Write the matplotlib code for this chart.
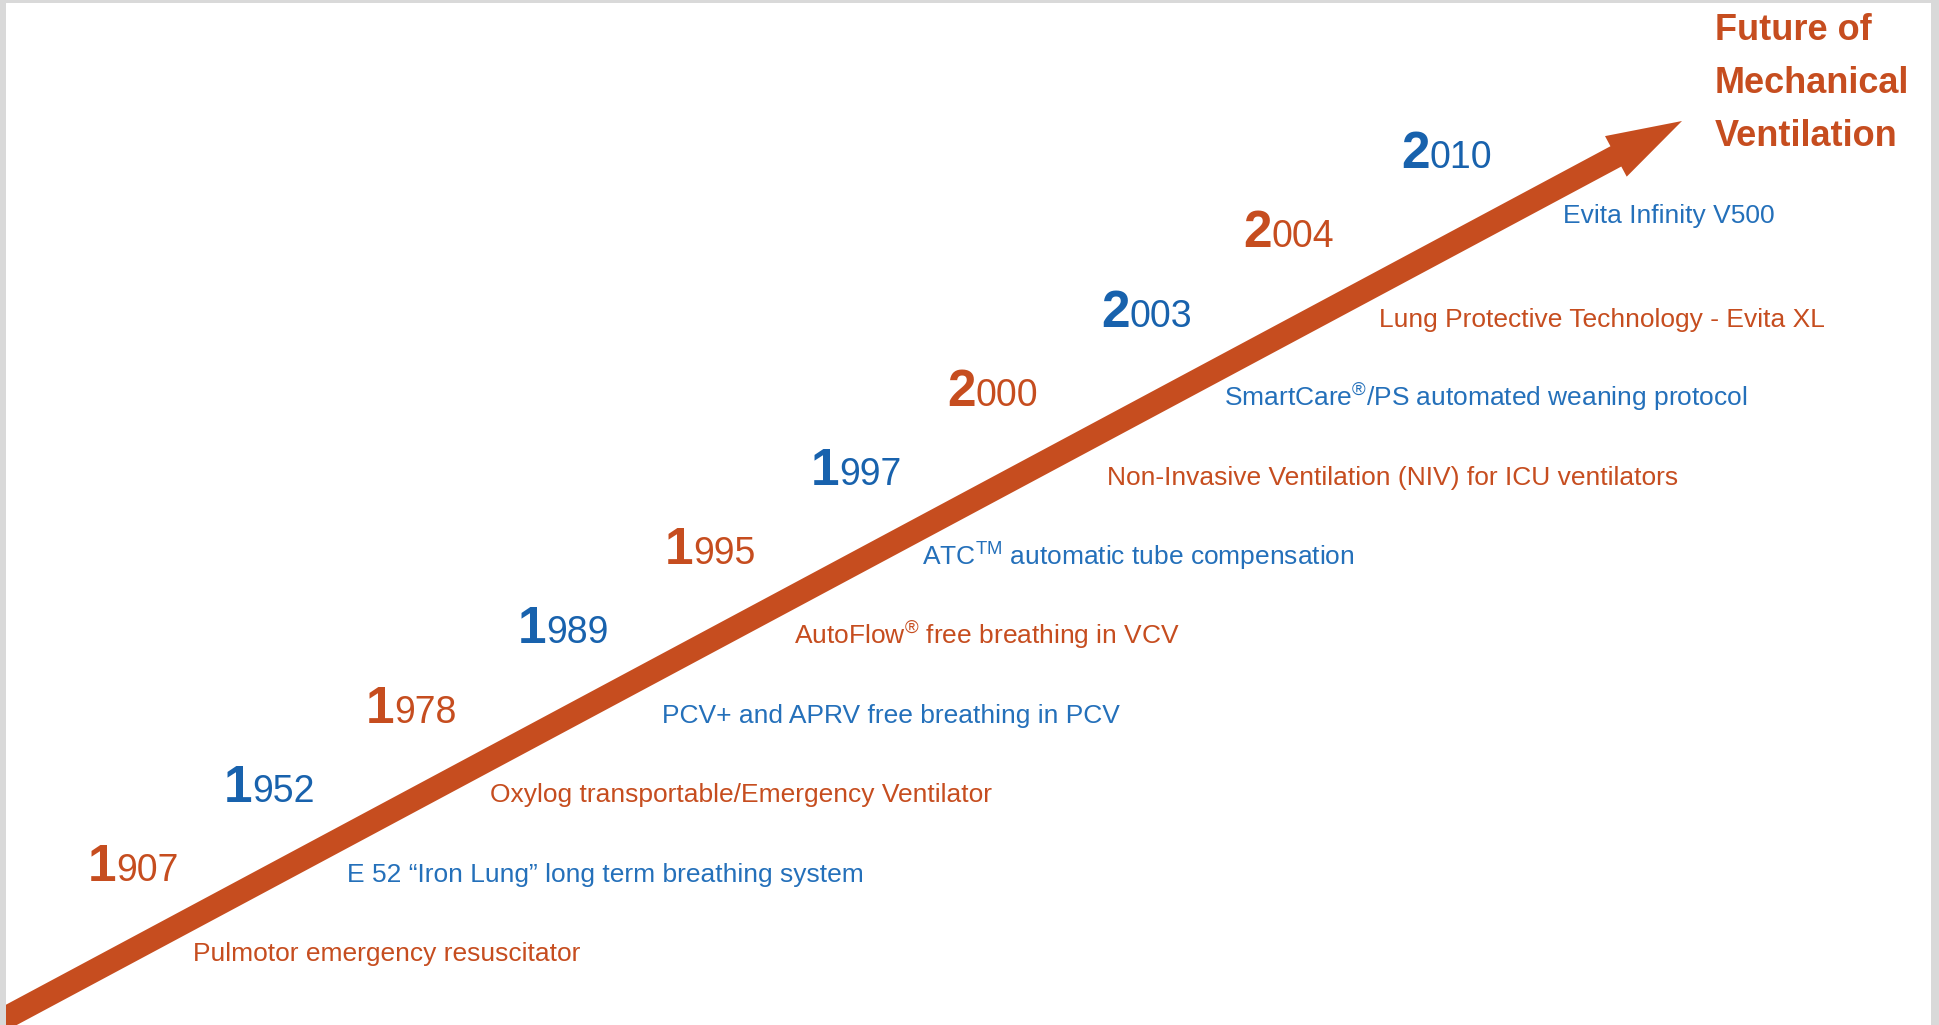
import matplotlib
matplotlib.use('Agg')
import matplotlib.pyplot as plt
from matplotlib.patches import FancyArrow

plt.rcParams['font.family'] = ['Liberation Sans', 'DejaVu Sans']
plt.rcParams['mathtext.fontset'] = 'custom'
plt.rcParams['mathtext.rm'] = 'Liberation Sans'
plt.rcParams['mathtext.bf'] = 'Liberation Sans:bold'

years = ['1907', '1952', '1978', '1989', '1995', '1997', '2000', '2003', '2004', '2010']
events = [
    'Pulmotor emergency resuscitator',
    'E 52 \u201cIron Lung\u201d long term breathing system',
    'Oxylog transportable/Emergency Ventilator',
    'PCV+ and APRV free breathing in PCV',
    'AutoFlow$^{\\circledR}$ free breathing in VCV',
    'ATC$^{\\mathrm{TM}}$ automatic tube compensation',
    'Non-Invasive Ventilation (NIV) for ICU ventilators',
    'SmartCare$^{\\circledR}$/PS automated weaning protocol',
    'Lung Protective Technology - Evita XL',
    'Evita Infinity V500',
]
title_lines = ['Future of', 'Mechanical', 'Ventilation']

orange = '#C64D1F'
blue = '#2470BA'
year_blue = '#1862AD'

# layout (pixel positions of the original picture)
year_x = [88, 224, 366, 518, 665, 811, 947, 1101, 1243, 1401]
year_base = [881 - i * 79.2 for i in range(len(years))]
event_x = [193, 347, 490, 662, 794, 922, 1107, 1224, 1379, 1563]
event_base = [961 - i * 79.3 for i in range(len(events) - 1)] + [223]

W, H = 1939, 1025
fig = plt.figure(figsize=(W / 100, H / 100), dpi=100, facecolor='#d9d9d9')
ax = fig.add_axes([6 / W, 0, (1931 - 6) / W, (H - 3) / H])
ax.set_xlim(6, 1931)
ax.set_ylim(H, 3)
ax.set_facecolor('white')
ax.axis('off')
ax.add_patch(plt.Rectangle((6, 3), 1925, 1022, color='white', zorder=0))

# the timeline arrow
x0, y0 = -30, 1037
x1, y1 = 1682, 121
ax.add_patch(FancyArrow(x0, y0, x1 - x0, y1 - y0, width=23, head_width=46,
                        head_length=75, length_includes_head=True,
                        color=orange, lw=0, zorder=2))

for i, (yr, ev) in enumerate(zip(years, events)):
    c = orange if i % 2 == 0 else blue
    yc = orange if i % 2 == 0 else year_blue
    t1 = ax.text(year_x[i], year_base[i], yr[0], fontsize=37, fontweight='bold',
                 color=yc, va='baseline', ha='left')
    ax.annotate(yr[1:], xy=(1, year_base[i]), xycoords=(t1, 'data'),
                fontsize=27, color=yc, va='baseline', ha='left')
    ax.text(event_x[i], event_base[i], ev, fontsize=19, color=c,
            va='baseline', ha='left')

for j, line in enumerate(title_lines):
    ax.text(1715, 40 + j * 53, line, fontsize=26, fontweight='bold',
            color=orange, va='baseline', ha='left')

fig.savefig('out.png', dpi=100, facecolor=fig.get_facecolor())
